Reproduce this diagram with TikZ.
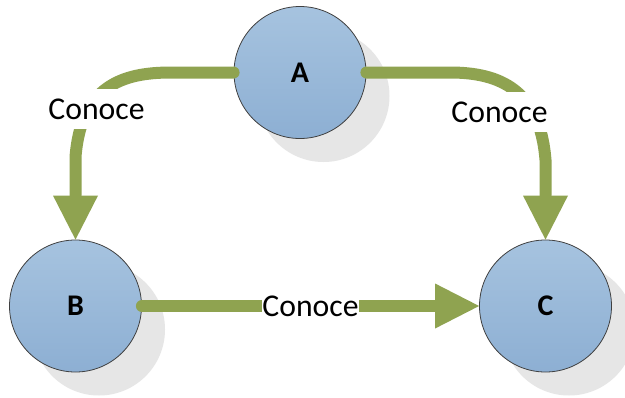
\documentclass[tikz,border=0pt]{standalone}
\usepackage{fontspec}
\setmainfont{Carlito}
\usetikzlibrary{arrows.meta}
\definecolor{grn}{HTML}{8FA350}
\definecolor{ctop}{HTML}{A6C3DF}
\definecolor{cbot}{HTML}{8DAFD3}
\definecolor{shd}{HTML}{E6E6E6}
\definecolor{edgec}{HTML}{404040}
\begin{document}
\begin{tikzpicture}[x=1pt,y=-1pt,
 ent/.style={circle, draw=edgec, line width=0.8pt, top color=ctop, bottom color=cbot, minimum size=132pt, inner sep=0pt, font=\fontsize{30}{36}\selectfont\bfseries},
 shadowc/.style={circle, fill=shd, minimum size=132pt, inner sep=0pt},
 conn/.style={draw=grn, line width=12pt, line cap=round, -{Triangle[length=44pt,width=45pt,line width=0pt]}},
 lbl/.style={fill=white, inner xsep=0.5pt, inner ysep=0pt, minimum height=40pt, font=\fontsize{31.7}{38}\selectfont}]
\useasboundingbox (0,0) rectangle (625,397);
\fill[white] (0,0) rectangle (625,397);
% shadows
\node[shadowc] (sA) at (323.5,96) {};
\node[shadowc] (sB) at (99,329.5) {};
\node[shadowc] (sC) at (569,329.5) {};
% entities
\node[ent] (A) at (300,72.5) {A};
\node[ent] (B) at (75.5,306) {B};
\node[ent] (C) at (545.5,306) {C};
% connectors
\draw[conn] (A.west) -- (171,72.5) .. controls (121,72.5) and (81,87) .. (75.5,157) -- (B.north);
\draw[conn] (A.east) -- (450,72.5) .. controls (500,72.5) and (540,90) .. (545.5,160) -- (C.north);
\draw[conn] (B.east) -- node[lbl, pos=0.5] (lBC) {Conoce} (C.west);
% labels on curved connectors
\node[lbl] (lAB) at (96.5,109) {Conoce};
\node[lbl] (lAC) at (499.5,112) {Conoce};
\end{tikzpicture}
\end{document}
